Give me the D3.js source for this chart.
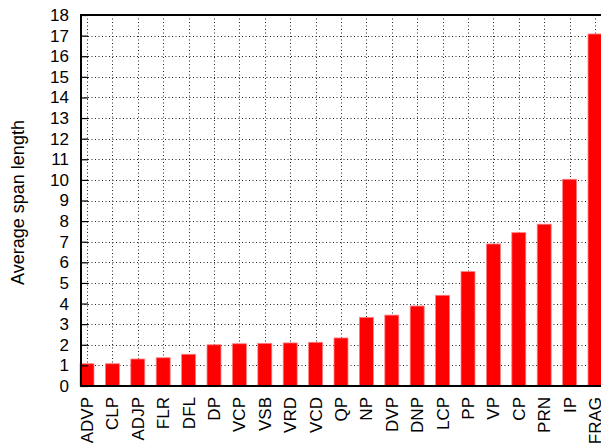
<!DOCTYPE html>
<html>
<head>
<meta charset="utf-8">
<script src="https://cdn.jsdelivr.net/npm/d3@7"></script>
<style>
  body { margin: 0; background: #fff; }
  text { font-family: "Liberation Sans", Arial, sans-serif; }
</style>
</head>
<body>
<div id="chart"></div>
<script>
// Categories, left to right.
const CATEGORIES = ["ADVP", "CLP", "ADJP", "FLR", "DFL", "DP", "VCP", "VSB", "VRD", "VCD",
                    "QP", "NP", "DVP", "DNP", "LCP", "PP", "VP", "CP", "PRN", "IP", "FRAG"];
// Average span length per category.
const SPAN = [1.08, 1.08, 1.31, 1.37, 1.54, 2.00, 2.05, 2.07, 2.09, 2.12,
              2.33, 3.33, 3.44, 3.88, 4.40, 5.55, 6.89, 7.44, 7.85, 10.03, 17.08];
const Y_TICKS = d3.range(0, 19);

const WIDTH = 601, HEIGHT = 444;
const PLOT = {'left': 81, 'top': 15, 'bottom': 386};

var svg = d3.select("#chart").append("svg")
            .attr("width", WIDTH)
            .attr("height", HEIGHT);

var x = d3.scaleBand()
          .domain(CATEGORIES)
          .range([74.3, 607.7])
          .paddingInner(0.45)
          .paddingOuter(0.225);

var y = d3.scaleLinear()
          .domain([0, 18])
          .range([PLOT.bottom, PLOT.top]);

// grid
var grid = svg.append("g")
              .attr("stroke", "#222")
              .attr("stroke-width", 1)
              .attr("stroke-dasharray", "1,2.5");

grid.selectAll(".hgrid")
    .data(Y_TICKS.slice(1, -1))
    .enter().append("line")
    .attr("x1", PLOT.left).attr("x2", WIDTH)
    .attr("y1", d => Math.round(y(d)) + 0.5)
    .attr("y2", d => Math.round(y(d)) + 0.5);

grid.selectAll(".vgrid")
    .data(CATEGORIES)
    .enter().append("line")
    .attr("x1", d => Math.round(x(d) + x.bandwidth() / 2) + 0.5)
    .attr("x2", d => Math.round(x(d) + x.bandwidth() / 2) + 0.5)
    .attr("y1", PLOT.top)
    .attr("y2", PLOT.bottom);

// bars
svg.selectAll(".bar")
   .data(SPAN)
   .enter().append("rect")
   .attr("x", (d, i) => x(CATEGORIES[i]))
   .attr("width", x.bandwidth())
   .attr("y", d => y(d))
   .attr("height", d => y(0) - y(d))
   .attr("fill", "#ff0000")
   .attr("stroke", "#ff8080")
   .attr("stroke-width", 0.8);

// y axis (ticks inward)
var yAxis = svg.append("g")
               .attr("transform", "translate(" + PLOT.left + ",0)")
               .call(d3.axisLeft(y).tickValues(Y_TICKS).tickSize(-7).tickPadding(12));
yAxis.select(".domain").remove();
yAxis.selectAll("line").attr("stroke", "#000").attr("stroke-width", 1.2);
yAxis.selectAll("text")
     .attr("font-size", "17px")
     .attr("fill", "#000")
     .attr("font-family", "'Liberation Sans', Arial, sans-serif");

// x axis labels
var xAxis = svg.append("g")
               .attr("transform", "translate(0," + PLOT.bottom + ")")
               .call(d3.axisBottom(x).tickSize(0).tickPadding(0));
xAxis.select(".domain").remove();
xAxis.selectAll("text")
     .attr("font-size", "17px")
     .attr("fill", "#000")
     .attr("font-family", "'Liberation Sans', Arial, sans-serif")
     .attr("text-anchor", "end")
     .attr("transform", "translate(0,11) rotate(-90)")
     .attr("y", 0)
     .attr("x", 0)
     .attr("dy", "0.35em");

// frame
svg.append("path")
   .attr("d", "M" + WIDTH + "," + PLOT.top + "H" + PLOT.left + "V" + PLOT.bottom + "H" + WIDTH)
   .attr("fill", "none")
   .attr("stroke", "#000")
   .attr("stroke-width", 2);

// y title
svg.append("text")
   .attr("transform", "translate(24,202.5) rotate(-90)")
   .attr("text-anchor", "middle")
   .attr("font-size", "18px")
   .text("Average span length");
</script>
</body>
</html>
